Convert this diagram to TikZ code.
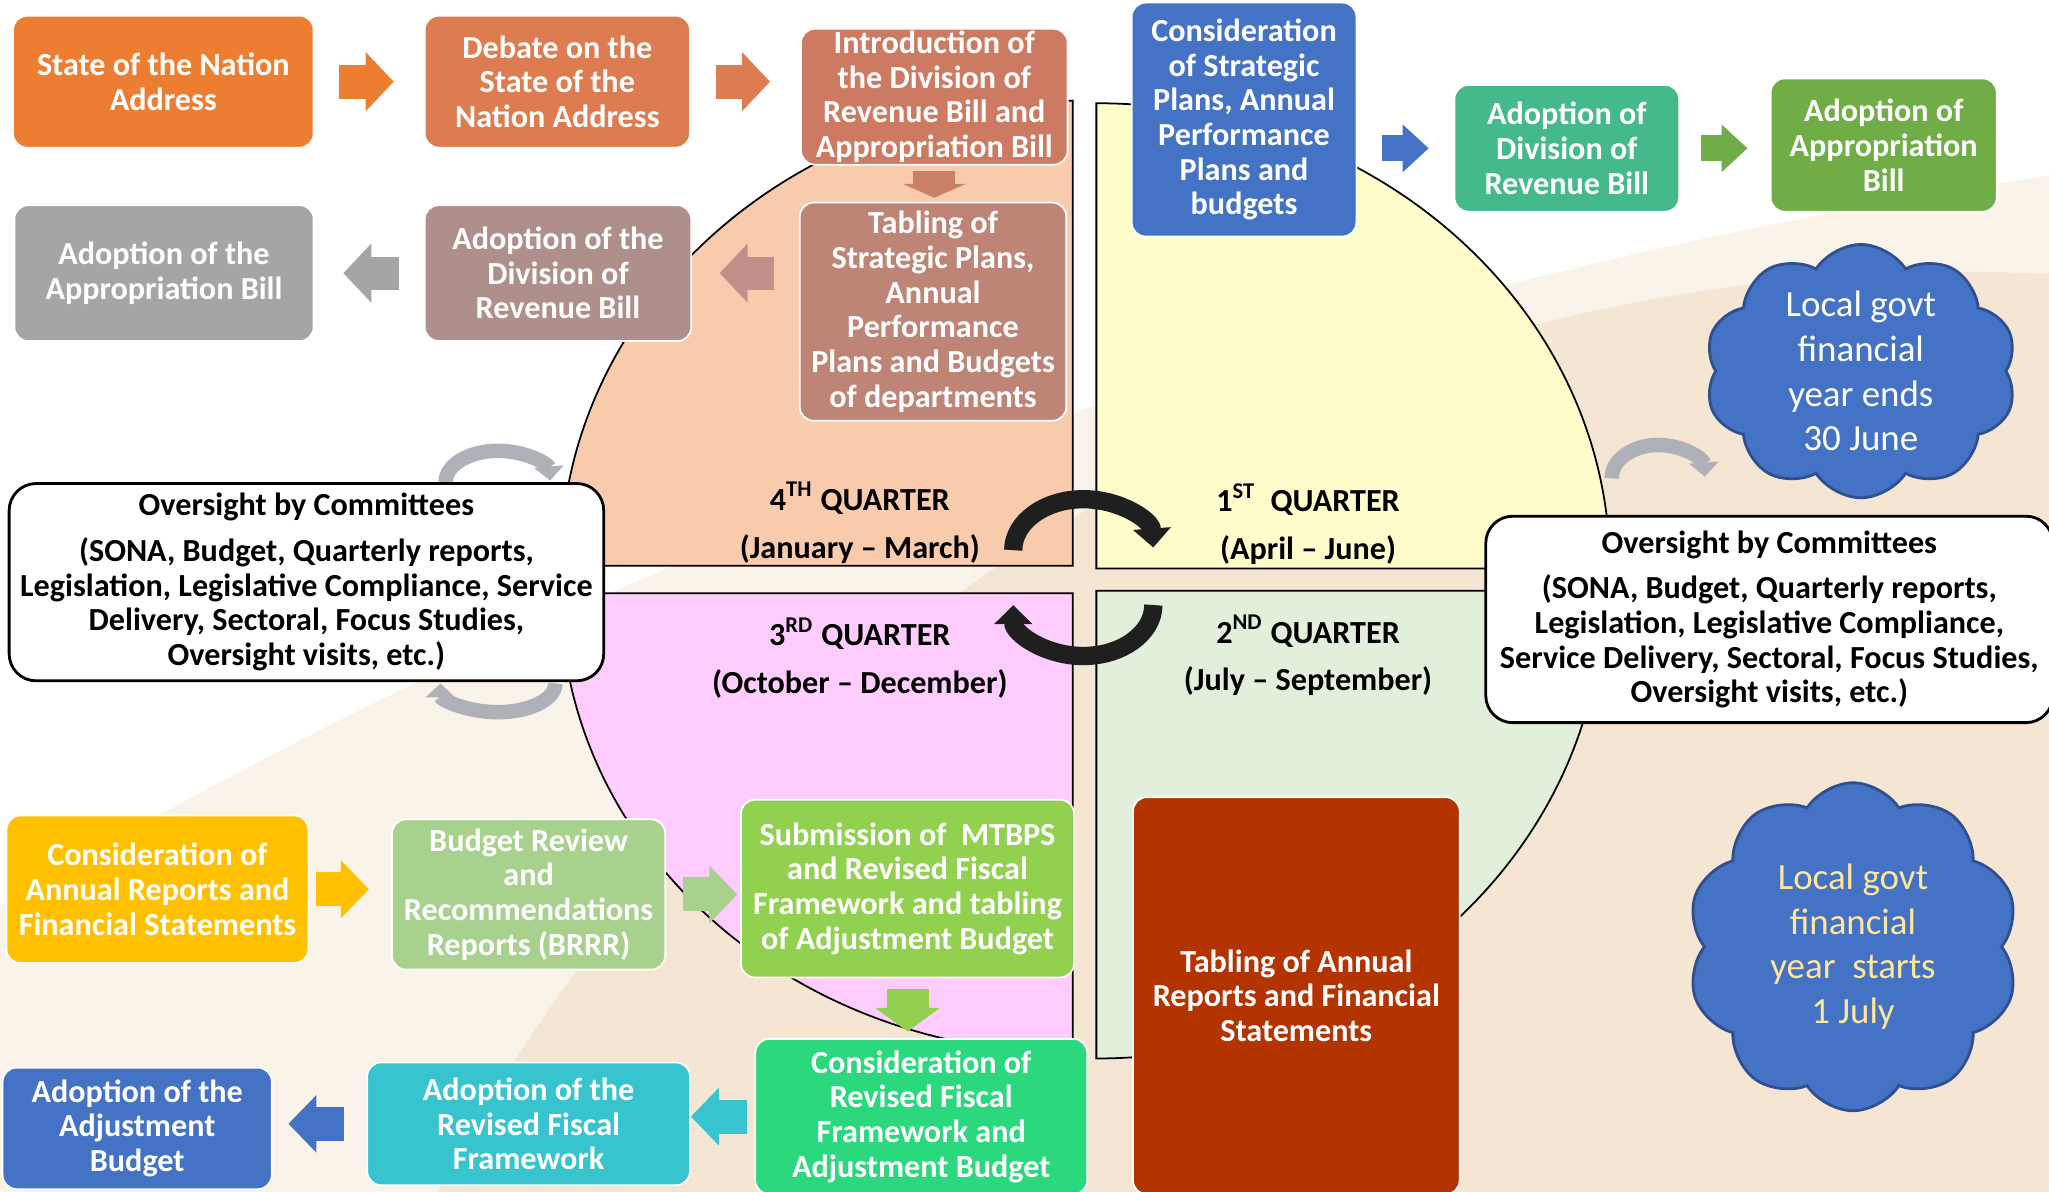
\documentclass[tikz,border=0pt]{standalone}
\usepackage{fontspec}
\setmainfont{Carlito}
\usetikzlibrary{arrows.meta,shapes.symbols,calc}

\newcommand\pu{0.013068cm}
\newcommand\boxfont{\fontsize{9.15}{9.85}\selectfont\bfseries}
\newcommand\cloudfont{\fontsize{10.5}{12.7}\selectfont}

\definecolor{cSona}{HTML}{ED7D31}
\definecolor{cDebate}{HTML}{DD7C50}
\definecolor{cIntro}{HTML}{CC7B62}
\definecolor{cIntroArr}{HTML}{C97F68}
\definecolor{cTabling}{HTML}{BE8577}
\definecolor{cTablingArr}{HTML}{C0918A}
\definecolor{cAdoptDiv}{HTML}{AF8F8B}
\definecolor{cGrey}{HTML}{A5A5A5}
\definecolor{cBlue}{HTML}{4472C4}
\definecolor{cTeal}{HTML}{44B98A}
\definecolor{cGreen}{HTML}{70AD47}
\definecolor{cGold}{HTML}{FFC000}
\definecolor{cSage}{HTML}{A9D18E}
\definecolor{cLime}{HTML}{92D050}
\definecolor{cMint}{HTML}{2CD87E}
\definecolor{cCyan}{HTML}{37C4CE}
\definecolor{cRust}{HTML}{B33400}
\definecolor{cPeach}{HTML}{F8CBAD}
\definecolor{cLemon}{HTML}{FFFDCC}
\definecolor{cPink}{HTML}{FFCCFF}
\definecolor{cPale}{HTML}{E2EFDA}
\definecolor{cCream}{HTML}{FAF3E9}
\definecolor{cBeige}{HTML}{F5E6D3}
\definecolor{cCloudLine}{HTML}{2F4F8F}
\definecolor{cYellowText}{HTML}{FFE699}
\definecolor{cGrayArr}{HTML}{AEB1B8}

\begin{document}
\begin{tikzpicture}[x=0.013068cm, y=-0.013068cm,
  qbox/.style={draw=white, line width=0.5pt, rounded corners=0.14cm, text=white,
    font=\boxfont, align=center, inner sep=0pt},
  oversight/.style={draw=black, line width=0.8pt, fill=white, rounded corners=0.27cm,
    font=\boxfont, align=center, inner sep=0pt},
  cloudnote/.style={cloud, cloud puffs=10, cloud puff arc=115, draw=cCloudLine,
    line width=0.8pt, fill=cBlue, font=\cloudfont, align=center, inner sep=0pt},
  blockarr/.style n args={4}{draw=#1, line width=#2, -{Triangle[width=#3, length=#4]}},
  quarter/.style={draw=black, line width=0.5pt},
  qlabel/.style={font=\boxfont, align=center},
  turnarr/.style={draw=black!88, line width=0.183cm, -{Triangle[width=0.37cm, length=0.19cm]}},
  grayarr/.style={draw=cGrayArr, line width=0.145cm, -{Triangle[width=0.29cm, length=0.14cm]}}
]
\useasboundingbox (0,0) rectangle (1568,912);
\clip (0,0) rectangle (1568,912);

% background
\fill[white] (0,0) rectangle (1568,912);
\fill[cCream] (2235,4483) circle [radius=4399];
\fill[cBeige] (1500,1523) circle [radius=1315];

% the four quarters
\filldraw[quarter, fill=cPeach] (821,433) -- (429,433) arc[start angle=180, end angle=270, x radius=392, y radius=356] -- cycle;
\filldraw[quarter, fill=cLemon] (839,435) -- (839,79) arc[start angle=270, end angle=360, x radius=393, y radius=356] -- cycle;
\filldraw[quarter, fill=cPink] (821,454) -- (429,454) arc[start angle=180, end angle=90, x radius=392, y radius=352] -- cycle;
\filldraw[quarter, fill=cPale] (839,452) -- (1227,452) arc[start angle=0, end angle=90, x radius=388, y radius=358] -- cycle;

\node[qlabel] (q4) at (658,400) {4\textsuperscript{TH} QUARTER\\[3.7pt](January -- March)};
\node[qlabel] (q1) at (1001,401) {1\textsuperscript{ST}\ \ QUARTER\\[3.7pt](April -- June)};
\node[qlabel] (q3) at (658,503.5) {3\textsuperscript{RD} QUARTER\\[3.7pt](October -- December)};
\node[qlabel] (q2) at (1001,501.5) {2\textsuperscript{ND} QUARTER\\[3.7pt](July -- September)};

% turning arrows
\draw[turnarr] (775.4,421) arc[start angle=180, end angle=357, x radius=53.6, y radius=39];
\draw[turnarr] (882.6,463) arc[start angle=0, end angle=180, x radius=53.6, y radius=39];
\draw[grayarr] (341,369) arc[start angle=180, end angle=357, x radius=40, y radius=24];
\draw[grayarr] (425,523) arc[start angle=0, end angle=180, x radius=44, y radius=22];
\draw[grayarr] (1233.3,366) arc[start angle=180, end angle=357, x radius=35.7, y radius=25.5];

% top rows
\node[qbox, fill=cSona, minimum width=230*\pu, minimum height=101*\pu] (sona) at (125,62.5) {State of the Nation\\Address};
\node[qbox, fill=cDebate, minimum width=203*\pu, minimum height=101*\pu] (debate) at (426.5,62.5) {Debate on the\\State of the\\Nation Address};
\node[qbox, fill=cIntro, minimum width=204*\pu, minimum height=104*\pu] (intro) at (715,74) {Introduction of\\the Division of\\Revenue Bill and\\Appropriation Bill};
\node[qbox, fill=cTabling, minimum width=204*\pu, minimum height=167*\pu] (tabling) at (714,238.5) {Tabling of\\Strategic Plans,\\Annual\\Performance\\Plans and Budgets\\of departments};
\node[qbox, fill=cAdoptDiv, minimum width=204*\pu, minimum height=104*\pu] (adoptdiv) at (427,209) {Adoption of the\\Division of\\Revenue Bill};
\node[qbox, fill=cGrey, minimum width=229*\pu, minimum height=104*\pu] (adoptapp) at (125.5,209) {Adoption of the\\Appropriation Bill};
\node[qbox, fill=cBlue, minimum width=172*\pu, minimum height=179*\pu] (strat) at (952,91.5) {Consideration\\of Strategic\\Plans, Annual\\Performance\\Plans and\\budgets};
\node[qbox, fill=cTeal, minimum width=172*\pu, minimum height=97*\pu] (divrev) at (1199,113.5) {Adoption of\\Division of\\Revenue Bill};
\node[qbox, fill=cGreen, minimum width=173*\pu, minimum height=102*\pu] (approp) at (1441.5,111) {Adoption of\\Appropriation\\Bill};

\draw[blockarr={cSona}{0.34cm}{0.575cm}{0.28cm}, shorten <=0.248cm, shorten >=0.301cm] (sona.east) -- (debate.west);
\draw[blockarr={cDebate}{0.34cm}{0.575cm}{0.28cm}, shorten <=0.248cm, shorten >=0.301cm] (debate.east) -- (debate.east -| intro.west);
\draw[blockarr={cIntroArr}{0.42cm}{0.63cm}{0.14cm}, shorten <=0.052cm, shorten >=0.039cm] (intro.south) -- (intro.south |- tabling.north);
\draw[blockarr={cTablingArr}{0.33cm}{0.575cm}{0.28cm}, shorten <=0.248cm, shorten >=0.274cm] (tabling.west |- adoptdiv.east) -- (adoptdiv.east);
\draw[blockarr={cGrey}{0.33cm}{0.575cm}{0.28cm}, shorten <=0.248cm, shorten >=0.288cm] (adoptdiv.west) -- (adoptapp.east);
\draw[blockarr={cBlue}{0.26cm}{0.46cm}{0.26cm}, shorten <=0.248cm, shorten >=0.248cm] (strat.east |- divrev.west) -- (divrev.west);
\draw[blockarr={cGreen}{0.26cm}{0.46cm}{0.26cm}, shorten <=0.209cm, shorten >=0.222cm] (divrev.east) -- (divrev.east -| approp.west);

% bottom rows
\node[qbox, fill=cGold, minimum width=231*\pu, minimum height=113*\pu] (annual) at (120.5,680.5) {Consideration of\\Annual Reports and\\Financial Statements};
\node[qbox, fill=cSage, minimum width=209*\pu, minimum height=115*\pu] (brrr) at (404.5,684.5) {Budget Review\\and\\Recommendations\\Reports (BRRR)};
\node[qbox, fill=cLime, minimum width=255*\pu, minimum height=136*\pu] (mtbps) at (694.5,680) {Submission of\ \ MTBPS\\and Revised Fiscal\\Framework and tabling\\of Adjustment Budget};
\node[qbox, fill=cMint, minimum width=254*\pu, minimum height=119*\pu] (revfisc) at (705,854.5) {Consideration of\\Revised Fiscal\\Framework and\\Adjustment Budget};
\node[qbox, fill=cCyan, minimum width=247*\pu, minimum height=94*\pu] (adoptfisc) at (404.5,860) {Adoption of the\\Revised Fiscal\\Framework};
\node[qbox, fill=cBlue, minimum width=206*\pu, minimum height=93*\pu] (adoptadj) at (105,863.5) {Adoption of the\\Adjustment\\Budget};
\node[qbox, fill=cRust, minimum width=250*\pu, minimum height=304*\pu] (tablingar) at (992,762) {Tabling of Annual\\Reports and Financial\\Statements};

\draw[blockarr={cGold}{0.34cm}{0.56cm}{0.28cm}, shorten <=0.065cm, shorten >=0.222cm] (annual.east) -- (annual.east -| brrr.west);
\draw[blockarr={cSage}{0.34cm}{0.56cm}{0.28cm}, shorten <=0.17cm, shorten >=0.026cm] (brrr.east) -- (brrr.east -| mtbps.west);
\draw[blockarr={cLime}{0.42cm}{0.63cm}{0.235cm}, shorten <=0.105cm, shorten >=0.065cm] (mtbps.south) -- (mtbps.south |- revfisc.north);
\draw[blockarr={cCyan}{0.34cm}{0.56cm}{0.28cm}, shorten <=0.078cm] (revfisc.west) -- (revfisc.west -| adoptfisc.east);
\draw[blockarr={cBlue}{0.34cm}{0.56cm}{0.28cm}, shorten <=0.222cm, shorten >=0.157cm] (adoptfisc.west) -- (adoptfisc.west -| adoptadj.east);

% oversight
\node[oversight, minimum width=455*\pu, minimum height=151*\pu] (overL) at (234.5,445.5) {Oversight by Committees\\[3.2pt](SONA, Budget, Quarterly reports,\\Legislation, Legislative Compliance, Service\\Delivery, Sectoral, Focus Studies,\\Oversight visits, etc.)};
\node[oversight, minimum width=434*\pu, minimum height=158*\pu] (overR) at (1354,474) {Oversight by Committees\\[3.2pt](SONA, Budget, Quarterly reports,\\Legislation, Legislative Compliance,\\Service Delivery, Sectoral, Focus Studies,\\Oversight visits, etc.)};

% local govt year
\node[cloudnote, text=white, minimum width=239*\pu, minimum height=189*\pu] (yearend) at (1424,284) {Local govt\\financial\\year ends\\30 June};
\node[cloudnote, text=cYellowText, minimum width=254*\pu, minimum height=251*\pu] (yearstart) at (1418,724.5) {Local govt\\financial\\year\ \ starts\\1 July};

\end{tikzpicture}
\end{document}
